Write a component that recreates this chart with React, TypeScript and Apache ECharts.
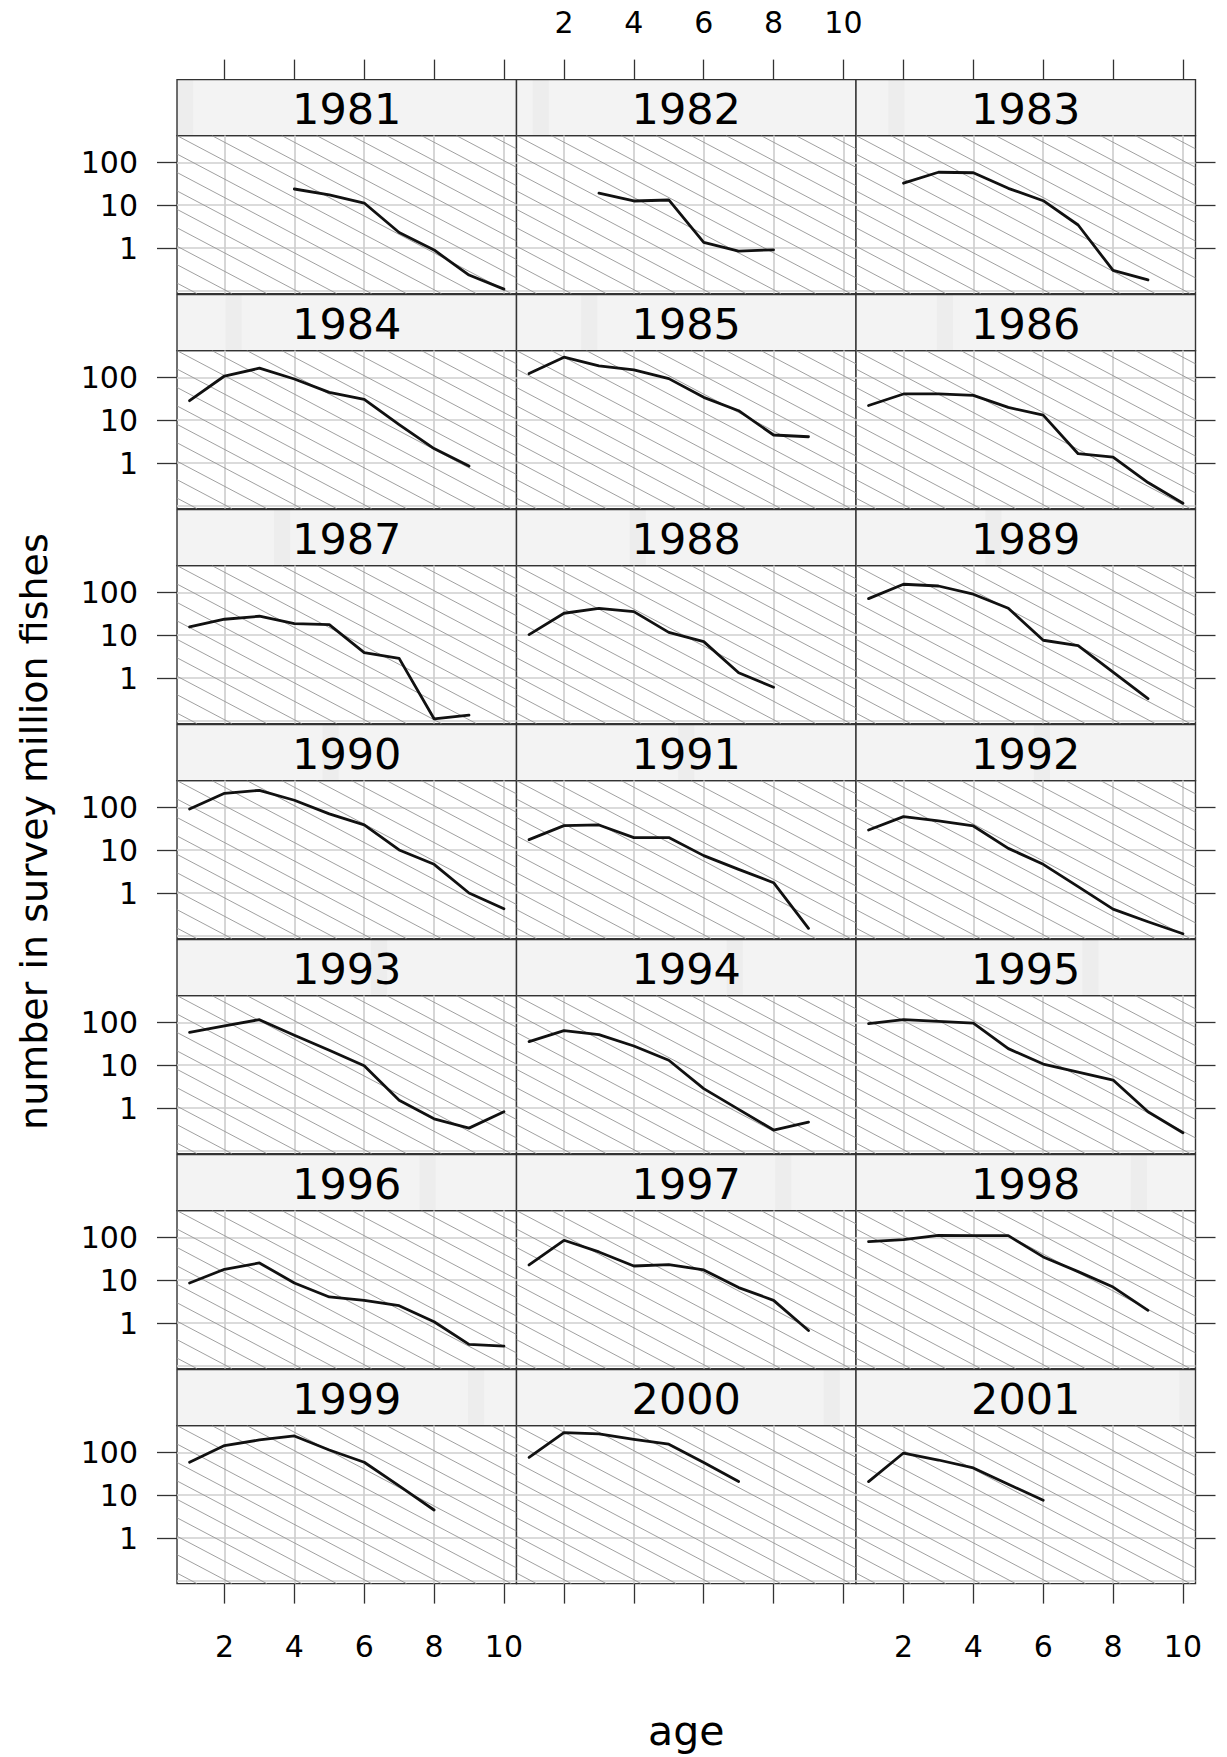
import { useEffect, useRef } from "react";
import * as echarts from "echarts";

// ---------- data ----------
const YEARS = [1981, 1982, 1983, 1984, 1985, 1986, 1987, 1988, 1989, 1990, 1991, 1992, 1993, 1994, 1995, 1996, 1997, 1998, 1999, 2000, 2001];
const AGES = [1, 2, 3, 4, 5, 6, 7, 8, 9, 10];

const N1981 = [null, null, null, 23.8, 17.3, 11.2, 2.3, 0.9, 0.234, 0.11];
const N1982 = [null, null, 19, 12.5, 13.2, 1.36, 0.85, 0.91, null, null];
const N1983 = [null, 32.5, 58.5, 57, 24.7, 12.7, 3.44, 0.3, 0.18, null];
const N1984 = [28.4, 107, 163, 91, 44.5, 30.5, 7.9, 2.17, 0.85, null];
const N1985 = [122, 294, 184, 149, 93, 34, 16.6, 4.5, 4.1, null];
const N1986 = [22, 40.8, 41, 37.8, 19.8, 13.1, 1.65, 1.38, 0.35, 0.115];
const N1987 = [15.5, 23.5, 27.6, 18.5, 17.6, 3.9, 2.88, 0.112, 0.137, null];
const N1988 = [10.3, 32.4, 42.3, 35.4, 11.6, 7.05, 1.33, 0.61, null, null];
const N1989 = [71, 154, 140, 90, 42.3, 7.6, 5.7, 1.38, 0.33, null];
const N1990 = [91, 212, 249, 146, 70, 38.8, 10.1, 4.67, 1.0, 0.43];
const N1991 = [17.6, 37.3, 38.7, 19.6, 19.6, 7.45, 3.57, 1.74, 0.15, null];
const N1992 = [29.6, 60.5, 48, 36.6, 11, 4.67, 1.41, 0.42, 0.214, 0.112];
const N1993 = [58.5, 82, 115, 49.7, 22.2, 9.7, 1.51, 0.56, 0.34, 0.82];
const N1994 = [35.4, 63.8, 51.5, 28, 13, 2.83, 0.93, 0.306, 0.47, null];
const N1995 = [93, 115, 105, 96, 24.3, 10.6, 6.9, 4.5, 0.82, 0.265];
const N1996 = [8.6, 17.9, 25.2, 8.6, 4.05, 3.38, 2.54, 1.07, 0.318, 0.29];
const N1997 = [22.6, 85, 45.5, 21.4, 23, 17.3, 6.7, 3.38, 0.67, null];
const N1998 = [79, 88, 111, 109, 109, 34.8, 15.8, 6.9, 1.98, null];
const N1999 = [58.5, 143, 194, 240, 113, 58.5, 16.4, 4.5, null, null];
const N2000 = [76, 288, 268, 201, 154, 57.4, 20.7, null, null, null];
const N2001 = [20.7, 96, 66, 43, 17.9, 7.6, null, null, null, null];

const NUMBERS = [N1981, N1982, N1983, N1984, N1985, N1986, N1987, N1988, N1989, N1990, N1991, N1992, N1993, N1994, N1995, N1996, N1997, N1998, N1999, N2000, N2001];

// axes
const X_TICKS = [2, 4, 6, 8, 10];
const Y_TICKS = [1, 10, 100];
const Y_GRID = [0.1, 1, 10, 100];
const X_MIN = 0.64;
const X_MAX = 10.36;
const Y_MIN = 0.0865;
const Y_MAX = 418.8;
// background hatching: parallel lines, decades dropped per year of age, spaced one year apart
const HATCH_SLOPE = 0.43;
const HATCH_STEP = 1;

// ---------- layout ----------
const W = 1227;
const H = 1757;
const NCOL = 3;
const PANEL_LEFT = 177;
const PANEL_W = 339.5;
const FIRST_STRIP_TOP = 79.6;
const ROW_H = 215;
const STRIP_H = 56;
const PANEL_H = 158;
const FONT = '"DejaVu Sans", "Liberation Sans", sans-serif';
const TICK_FONT = 30;
const INK = "#333333";

function hatchSegments() {
  const ly0 = Math.log10(Y_MIN);
  const ly1 = Math.log10(Y_MAX);
  const span = (ly1 - ly0) / HATCH_SLOPE;
  const segs: any[] = [];
  for (let x0 = X_MIN - Math.ceil(span / HATCH_STEP) * HATCH_STEP; x0 < X_MAX; x0 += HATCH_STEP) {
    const xa = Math.max(X_MIN, x0);
    const xb = Math.min(X_MAX, x0 + span);
    if (xb - xa < 1e-6) continue;
    const ya = ly1 - HATCH_SLOPE * (xa - x0);
    const yb = ly1 - HATCH_SLOPE * (xb - x0);
    segs.push({ coords: [[xa, Math.pow(10, ya)], [xb, Math.pow(10, yb)]] });
  }
  return segs;
}

function gridSegments() {
  return [
    ...X_TICKS.map((x) => ({ coords: [[x, Y_MIN], [x, Y_MAX]] })),
    ...Y_GRID.map((y) => ({ coords: [[X_MIN, y], [X_MAX, y]] })),
  ];
}

function buildOption() {
  const nRow = Math.ceil(YEARS.length / NCOL);
  const grids: any[] = [];
  const xAxes: any[] = [];
  const yAxes: any[] = [];
  const series: any[] = [];
  const graphics: any[] = [];
  const hatch = hatchSegments();
  const gridLines = gridSegments();
  const bandW = PANEL_W / YEARS.length;

  YEARS.forEach((year, i) => {
    const r = Math.floor(i / NCOL);
    const c = i % NCOL;
    const left = PANEL_LEFT + c * PANEL_W;
    const stripTop = FIRST_STRIP_TOP + r * ROW_H;
    const top = stripTop + STRIP_H;

    grids.push({
      left,
      top,
      width: PANEL_W,
      height: PANEL_H,
      show: true,
      borderColor: INK,
      borderWidth: 1.4,
      backgroundColor: "#ffffff",
      containLabel: false,
      outerBoundsMode: "none",
    });

    const isTop = r === 0;
    const isBottom = r === nRow - 1;
    xAxes.push({
      gridIndex: i,
      type: "value",
      min: X_MIN,
      max: X_MAX,
      position: isTop ? "top" : "bottom",
      offset: isTop ? STRIP_H : 0,
      show: isTop || isBottom,
      axisLine: { show: false },
      splitLine: { show: false },
      axisTick: {
        show: true,
        inside: false,
        length: 20,
        customValues: X_TICKS,
        lineStyle: { color: INK, width: 1.3 },
      },
      axisLabel: {
        show: (isTop && c === 1) || (isBottom && c !== 1),
        customValues: X_TICKS,
        margin: isTop ? 42 : 48,
        fontSize: TICK_FONT,
        fontFamily: FONT,
        color: "#000",
      },
    });

    yAxes.push({
      gridIndex: i,
      type: "log",
      logBase: 10,
      min: Y_MIN,
      max: Y_MAX,
      position: c === NCOL - 1 ? "right" : "left",
      show: c !== 1,
      axisLine: { show: false },
      splitLine: { show: false },
      minorSplitLine: { show: false },
      axisTick: {
        show: true,
        inside: false,
        length: 20,
        customValues: Y_TICKS,
        lineStyle: { color: INK, width: 1.3 },
      },
      axisLabel: {
        show: c === 0,
        customValues: Y_TICKS,
        margin: 39,
        fontSize: TICK_FONT,
        fontFamily: FONT,
        color: "#000",
        formatter: (v: number) => String(Math.round(v)),
      },
    });

    series.push({
      type: "lines",
      coordinateSystem: "cartesian2d",
      xAxisIndex: i,
      yAxisIndex: i,
      silent: true,
      z: 1,
      data: gridLines,
      lineStyle: { color: "#cfcfcf", width: 1.7, opacity: 1, curveness: 0 },
    });
    series.push({
      type: "lines",
      coordinateSystem: "cartesian2d",
      xAxisIndex: i,
      yAxisIndex: i,
      silent: true,
      z: 2,
      data: hatch,
      lineStyle: { color: "#959595", width: 0.9, opacity: 1, curveness: 0 },
    });

    const vals = NUMBERS[i];
    const pts = AGES.map((a, k) => [a, vals[k]]).filter((p) => p[1] !== null);
    series.push({
      type: "line",
      name: String(year),
      xAxisIndex: i,
      yAxisIndex: i,
      z: 5,
      data: pts,
      symbol: "none",
      silent: true,
      lineStyle: { color: "#111111", width: 2.8, cap: "round", join: "round" },
    });

    // strip
    graphics.push({
      type: "rect",
      silent: true,
      shape: { x: left, y: stripTop, width: PANEL_W, height: STRIP_H },
      style: { fill: "#f3f3f3" },
    });
    graphics.push({
      type: "rect",
      silent: true,
      shape: { x: left + i * bandW, y: stripTop, width: bandW, height: STRIP_H },
      style: { fill: "#ededed" },
    });
    graphics.push({
      type: "rect",
      silent: true,
      shape: { x: left, y: stripTop, width: PANEL_W, height: STRIP_H },
      style: { fill: "none", stroke: INK, lineWidth: 1.4 },
    });
    graphics.push({
      type: "text",
      silent: true,
      x: left + PANEL_W / 2,
      y: stripTop + STRIP_H / 2 + 1,
      style: {
        text: String(year),
        fontSize: 43,
        fontFamily: FONT,
        fill: "#000",
        align: "center",
        verticalAlign: "middle",
        textAlign: "center",
        textVerticalAlign: "middle",
      },
    });
  });

  const panelsTop = FIRST_STRIP_TOP;
  const panelsBottom = FIRST_STRIP_TOP + (nRow - 1) * ROW_H + STRIP_H + PANEL_H;
  graphics.push({
    type: "text",
    silent: true,
    x: PANEL_LEFT + (NCOL * PANEL_W) / 2,
    y: 1731,
    style: {
      text: "age",
      fontSize: 41,
      fontFamily: FONT,
      fill: "#000",
      align: "center",
      verticalAlign: "middle",
      textAlign: "center",
      textVerticalAlign: "middle",
    },
  });
  graphics.push({
    type: "text",
    silent: true,
    x: 34,
    y: (panelsTop + panelsBottom) / 2,
    rotation: Math.PI / 2,
    style: {
      text: "number in survey million fishes",
      fontSize: 38,
      fontFamily: FONT,
      fill: "#000",
      align: "center",
      verticalAlign: "middle",
      textAlign: "center",
      textVerticalAlign: "middle",
    },
  });

  return {
    animation: false,
    backgroundColor: "#ffffff",
    grid: grids,
    xAxis: xAxes,
    yAxis: yAxes,
    series,
    graphic: { elements: graphics },
  };
}

export default function App() {
  const ref = useRef<HTMLDivElement | null>(null);
  useEffect(() => {
    document.body.style.margin = "0";
    if (!ref.current) return;
    const chart = echarts.init(ref.current, null, { renderer: "svg" });
    chart.setOption(buildOption() as any);
    return () => chart.dispose();
  }, []);
  return <div ref={ref} style={{ width: W, height: H }} />;
}
